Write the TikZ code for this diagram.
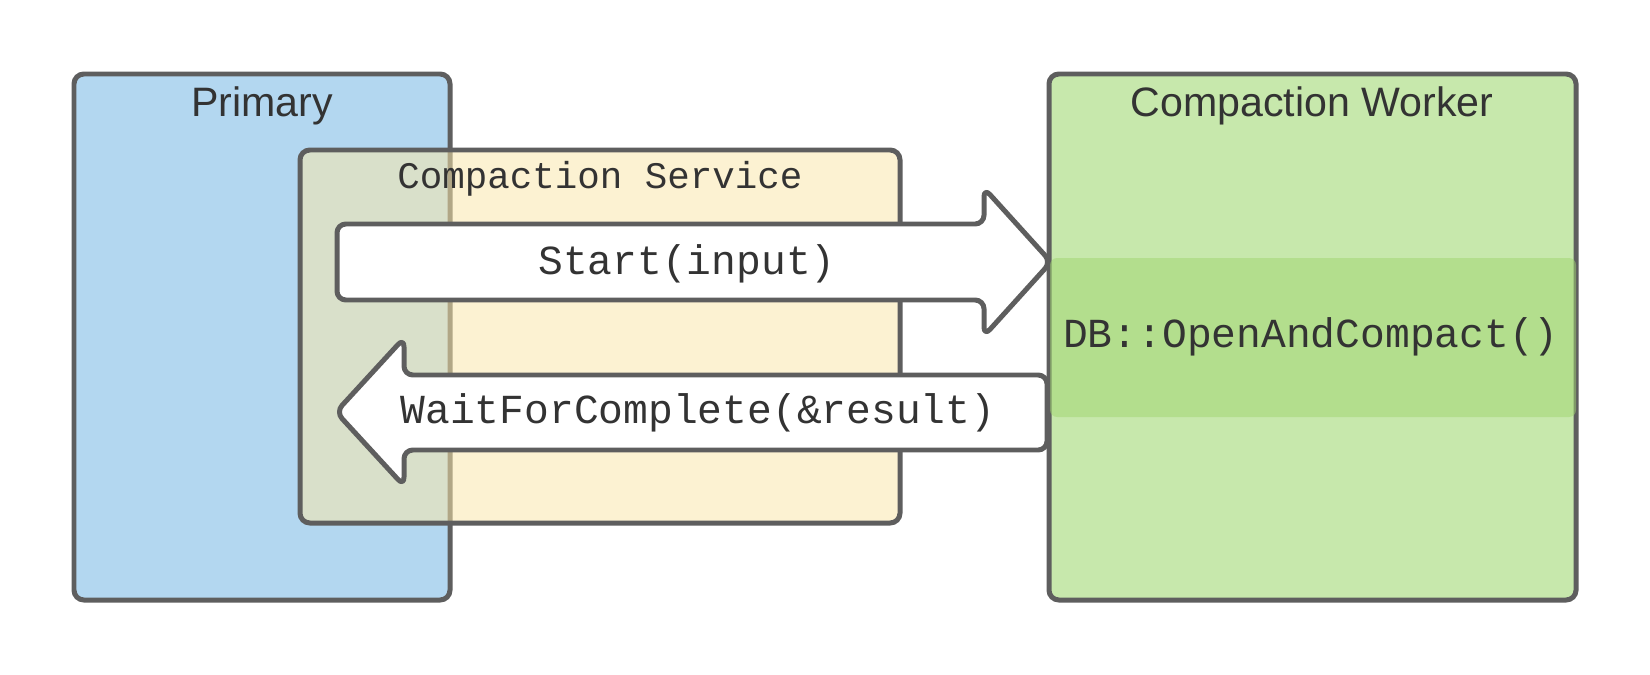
\documentclass[tikz,border=0pt]{standalone}
\usepackage{fontspec}
\setmainfont{Liberation Sans}
\setmonofont{Liberation Mono}
\definecolor{edge}{HTML}{5E5E5E}
\definecolor{primaryblue}{HTML}{B3D7F0}
\definecolor{serviceyellow}{RGB}{251,232,170}
\definecolor{workergreen}{HTML}{C7E8AC}
\definecolor{bandgreen}{RGB}{160,214,112}
\definecolor{txt}{HTML}{333333}
\begin{document}
\begin{tikzpicture}[x=0.1mm,y=-0.1mm,
  box/.style={draw=edge,line width=1.42pt,rounded corners=2.8pt},
  arrowshape/.style={draw=edge,fill=white,line width=1.42pt,rounded corners=2.5pt,line join=round},
  sanslabel/.style={text=txt,font=\fontsize{11.7}{14}\selectfont,inner sep=0pt,anchor=base},
  monolabel/.style={text=txt,font=\ttfamily\fontsize{11.75}{14}\selectfont,inner sep=0pt,anchor=base},
  smallmono/.style={text=txt,font=\ttfamily\fontsize{10.67}{13}\selectfont,inner sep=0pt,anchor=base},
]
\useasboundingbox (0,0) rectangle (1650,675);
\fill[white] (0,0) rectangle (1650,675);
% Primary
\draw[box,fill=primaryblue] (74,74) rectangle (450,600);
% Compaction Service (translucent)
\fill[serviceyellow,fill opacity=0.53,rounded corners=2.8pt] (300,150) rectangle (900,523);
\draw[box] (300,150) rectangle (900,523);
% Compaction Worker
\draw[box,fill=workergreen] (1049,74) rectangle (1576,600);
\fill[bandgreen,fill opacity=0.5,rounded corners=2pt] (1050,258) rectangle (1576,417);
% Arrows
\draw[arrowshape] (337,224) -- (984,224) -- (984,188) -- (1051,262) -- (984,336) -- (984,300) -- (337,300) -- cycle;
\draw[arrowshape] (1047,375) -- (404,375) -- (404,338) -- (336,412) -- (404,486) -- (404,450) -- (1047,450) -- cycle;
% Labels
\node[sanslabel] (primary) at (262,117) {Primary};
\node[sanslabel] (worker) at (1312,117) {Compaction Worker};
\node[smallmono] (service) at (600,189) {Compaction Service};
\node[monolabel] (start) at (687,274) {Start(input)};
\node[monolabel] (wait) at (698,423) {WaitForComplete(\&result)};
\node[monolabel] (db) at (1311,347) {DB::OpenAndCompact()};
\end{tikzpicture}
\end{document}
